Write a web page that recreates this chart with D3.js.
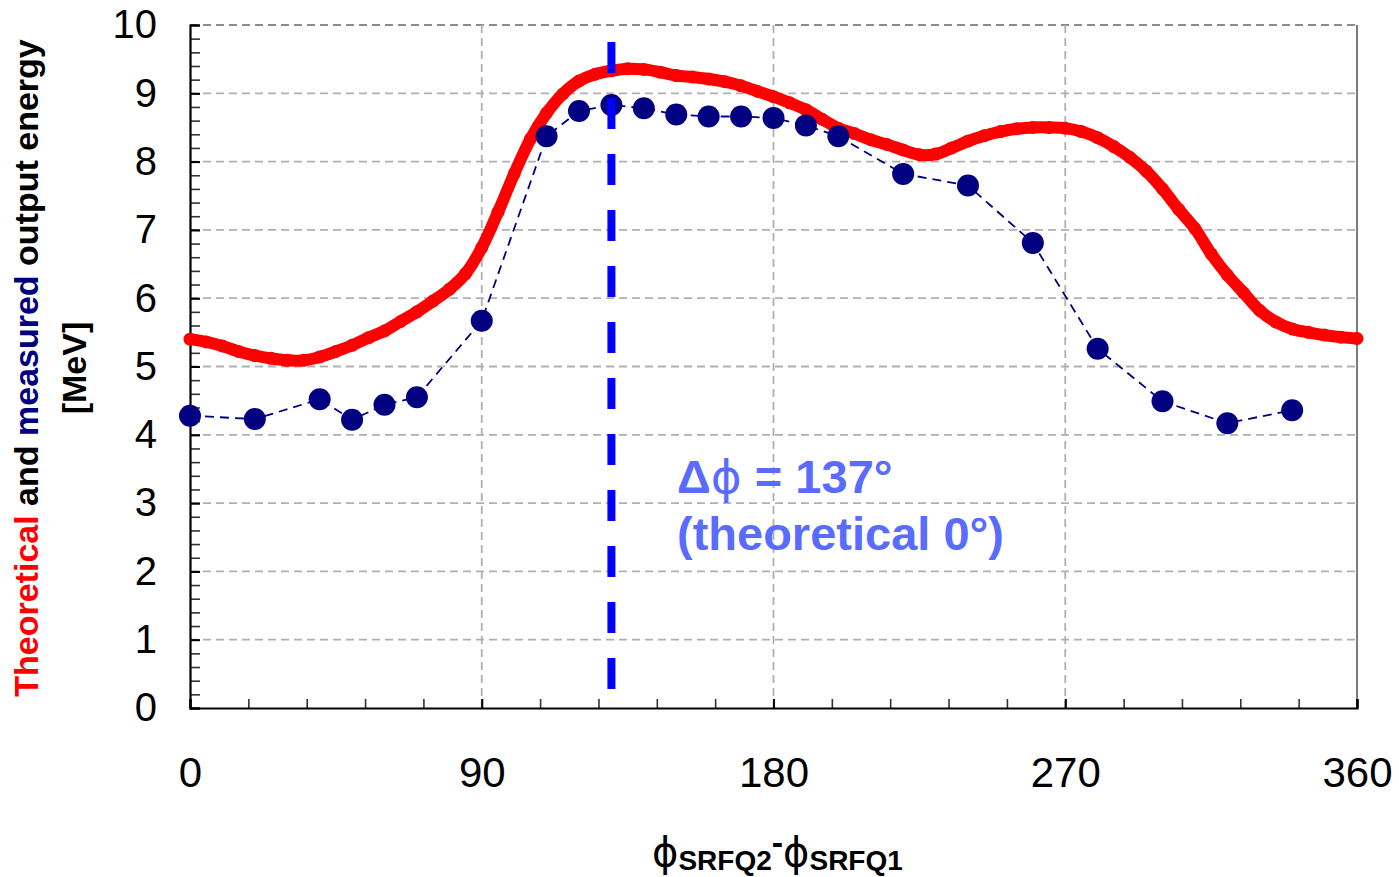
<!DOCTYPE html>
<html>
<head>
<meta charset="utf-8">
<script src="https://cdn.jsdelivr.net/npm/d3@7"></script>
<style>
  html, body { margin: 0; padding: 0; background: #ffffff; }
  svg { display: block; }
  text { font-family: "Liberation Sans", Arial, sans-serif; }
</style>
</head>
<body>
<svg id="chart" width="1399" height="877"></svg>
<script>
// Phase difference between the two SRFQ cavities (degrees)
const theoryPhase = [
  0, 5, 10, 15, 20, 25, 30, 35, 40, 45, 50, 55, 60, 65, 70, 75, 80, 85, 90,
  95, 100, 105, 110, 115, 120, 125, 130, 135, 140, 145, 150, 155, 160, 165,
  170, 175, 180, 185, 190, 195, 200, 205, 210, 215, 220, 225, 230, 235, 240,
  245, 250, 255, 260, 265, 270, 275, 280, 285, 290, 295, 300, 305, 310, 315,
  320, 325, 330, 335, 340, 345, 350, 355, 360
];
// Calculated output energy (MeV)
const theoryEnergy = [
  5.40, 5.36, 5.30, 5.22, 5.16, 5.12, 5.09, 5.09, 5.14, 5.22, 5.31, 5.42, 5.52,
  5.66, 5.80, 5.96, 6.13, 6.36, 6.74, 7.26, 7.82, 8.33, 8.71, 8.99, 9.18, 9.28,
  9.33, 9.36, 9.35, 9.31, 9.26, 9.24, 9.21, 9.17, 9.11, 9.03, 8.95, 8.86, 8.76,
  8.62, 8.49, 8.41, 8.32, 8.25, 8.17, 8.10, 8.11, 8.20, 8.30, 8.38, 8.44, 8.48,
  8.50, 8.50, 8.49, 8.44, 8.35, 8.22, 8.06, 7.86, 7.60, 7.30, 7.02, 6.65, 6.34,
  6.08, 5.82, 5.65, 5.55, 5.50, 5.46, 5.43, 5.41
];
// Measured phase settings (degrees) and output energy (MeV)
const measuredPhase = [
  0, 20, 40, 50, 60, 70, 90, 110, 120, 130, 140, 150, 160, 170, 180, 190,
  200, 220, 240, 260, 280, 300, 320, 340
];
const measuredEnergy = [
  4.28, 4.23, 4.52, 4.22, 4.44, 4.55, 5.67, 8.37, 8.74, 8.83, 8.78, 8.69,
  8.66, 8.66, 8.64, 8.53, 8.37, 7.82, 7.65, 6.81, 5.26, 4.49, 4.17, 4.36
];
// Tick values
const xMajorTicks = [0, 90, 180, 270, 360];
const xMinorTicks = d3.range(0, 361, 18);
const yMajorTicks = [0, 1, 2, 3, 4, 5, 6, 7, 8, 9, 10];
const yMinorTicks = d3.range(0, 50).map(i => +(i * 0.2).toFixed(1));
// Phase marker and its annotation
const markerPhase = 130;
const markerRange = [0.28, 9.75];
const noteLines = [["Δ", "ϕ", " = 137°"], ["(theoretical 0°)"]];

const svg = d3.select("#chart");
const plotLeft = 190, plotRight = 1357, plotTop = 25, plotBottom = 708;

const x = d3.scaleLinear().domain([0, 360]).range([plotLeft, plotRight]);
const y = d3.scaleLinear().domain([0, 10]).range([plotBottom, plotTop]);

// Grid
const grid = svg.append("g");
grid.selectAll("line.h").data(yMajorTicks.filter(v => v > 0)).join("line")
  .attr("x1", plotLeft).attr("x2", plotRight)
  .attr("y1", d => y(d)).attr("y2", d => y(d))
  .attr("stroke", d => d === 10 ? "#8c8c8c" : "#b0b0b0")
  .attr("stroke-width", d => d === 10 ? 2.2 : 1.8)
  .attr("stroke-dasharray", "8,5");
grid.selectAll("line.v").data([90, 180, 270]).join("line")
  .attr("x1", d => x(d)).attr("x2", d => x(d))
  .attr("y1", plotTop).attr("y2", plotBottom)
  .attr("stroke", "#b0b0b0").attr("stroke-width", 1.8)
  .attr("stroke-dasharray", "8,5");
// Right frame edge
svg.append("line")
  .attr("x1", plotRight).attr("x2", plotRight).attr("y1", plotTop).attr("y2", plotBottom)
  .attr("stroke", "#6e6e6e").attr("stroke-width", 1.8);

// Minor ticks (inside)
const yMinor = svg.append("g").attr("transform", `translate(${plotLeft},0)`)
  .call(d3.axisLeft(y).tickValues(yMinorTicks).tickSize(-10).tickFormat(""));
yMinor.select(".domain").remove();
yMinor.selectAll(".tick line").attr("stroke", "#333").attr("stroke-width", 1.6);

const xMinor = svg.append("g").attr("transform", `translate(0,${plotBottom})`)
  .call(d3.axisBottom(x).tickValues(xMinorTicks).tickSize(-9).tickFormat(""));
xMinor.select(".domain").remove();
xMinor.selectAll(".tick line").attr("stroke", "#333").attr("stroke-width", 1.6);

// Major axes with labels
const yAxis = svg.append("g").attr("transform", `translate(${plotLeft},0)`)
  .call(d3.axisLeft(y).tickValues(yMajorTicks).tickSize(-10).tickPadding(33)
    .tickFormat(d3.format("d")));
yAxis.select(".domain").attr("stroke", "#000").attr("stroke-width", 2.2);
yAxis.selectAll(".tick line").attr("stroke", "#000").attr("stroke-width", 2);
yAxis.selectAll(".tick text")
  .attr("font-size", 40).attr("fill", "#000")
  .attr("font-family", '"Liberation Sans", Arial, sans-serif');

const xAxis = svg.append("g").attr("transform", `translate(0,${plotBottom})`)
  .call(d3.axisBottom(x).tickValues(xMajorTicks).tickSize(-9).tickPadding(49)
    .tickFormat(d3.format("d")));
xAxis.select(".domain").attr("stroke", "#000").attr("stroke-width", 2.2);
xAxis.selectAll(".tick line").attr("stroke", "#000").attr("stroke-width", 2);
xAxis.selectAll(".tick text")
  .attr("font-size", 42).attr("fill", "#000")
  .attr("font-family", '"Liberation Sans", Arial, sans-serif');

// Theoretical curve: thick red bead chain
const theory = theoryPhase.map((p, i) => ({ p, e: theoryEnergy[i] }));
const theoryLine = d3.line().x(d => x(d.p)).y(d => y(d.e)).curve(d3.curveCatmullRom);
svg.append("path").datum(theory)
  .attr("d", theoryLine)
  .attr("fill", "none").attr("stroke", "#ff0000")
  .attr("stroke-width", 12)
  .attr("stroke-linecap", "round").attr("stroke-linejoin", "round");
svg.append("g").selectAll("circle").data(theory).join("circle")
  .attr("cx", d => x(d.p)).attr("cy", d => y(d.e)).attr("r", 6.5)
  .attr("fill", "#ff0000");

// Measured points joined by a thin dashed line
const measured = measuredPhase.map((p, i) => ({ p, e: measuredEnergy[i] }));
svg.append("path").datum(measured)
  .attr("d", d3.line().x(d => x(d.p)).y(d => y(d.e)))
  .attr("fill", "none").attr("stroke", "#000080")
  .attr("stroke-width", 1.8).attr("stroke-dasharray", "9,6");
svg.append("g").selectAll("circle").data(measured).join("circle")
  .attr("cx", d => x(d.p)).attr("cy", d => y(d.e)).attr("r", 11)
  .attr("fill", "#000080");

// Vertical phase marker
svg.append("line")
  .attr("x1", x(markerPhase)).attr("x2", x(markerPhase))
  .attr("y1", y(markerRange[1])).attr("y2", y(markerRange[0]))
  .attr("stroke", "#0000ff").attr("stroke-width", 8)
  .attr("stroke-dasharray", "31,25");

// Annotation
const note = svg.append("text")
  .attr("x", 677).attr("y", 493)
  .attr("font-size", 47).attr("font-weight", "bold").attr("fill", "#5a6bff");
noteLines.forEach((parts, i) => {
  parts.forEach((t, j) => {
    const ts = note.append("tspan").text(t);
    if (j === 0) ts.attr("x", 677).attr("dy", i === 0 ? 0 : 57);
    if (t === "ϕ") ts.attr("font-family", '"DejaVu Sans", sans-serif').attr("font-weight", "normal");
  });
});

// Y axis title (rotated)
const yTitle = svg.append("text")
  .attr("transform", "translate(38,368) rotate(-90)")
  .attr("text-anchor", "middle")
  .attr("font-size", 34).attr("font-weight", "bold");
[["Theoretical", "#ff0000"], [" and ", "#000000"], ["measured", "#000080"],
 [" output energy", "#000000"]].forEach(([t, c]) => {
  yTitle.append("tspan").attr("fill", c).text(t);
});
svg.append("text")
  .attr("transform", "translate(86,368) rotate(-90)")
  .attr("text-anchor", "middle")
  .attr("font-size", 34).attr("font-weight", "bold").attr("fill", "#000")
  .text("[MeV]");

// X axis title
const phiFont = '"DejaVu Sans", sans-serif';
const xTitle = svg.append("text")
  .attr("x", 652).attr("y", 866).attr("fill", "#000");
xTitle.append("tspan").attr("font-size", 40).attr("font-family", phiFont).text("ϕ");
xTitle.append("tspan").attr("font-size", 28).attr("font-weight", "bold").attr("dy", 4).text("SRFQ2");
xTitle.append("tspan").attr("font-size", 34).attr("font-weight", "bold").attr("dy", -16).text("-");
xTitle.append("tspan").attr("font-size", 40).attr("font-family", phiFont).attr("dy", 12).text("ϕ");
xTitle.append("tspan").attr("font-size", 28).attr("font-weight", "bold").attr("dy", 4).text("SRFQ1");
</script>
</body>
</html>
